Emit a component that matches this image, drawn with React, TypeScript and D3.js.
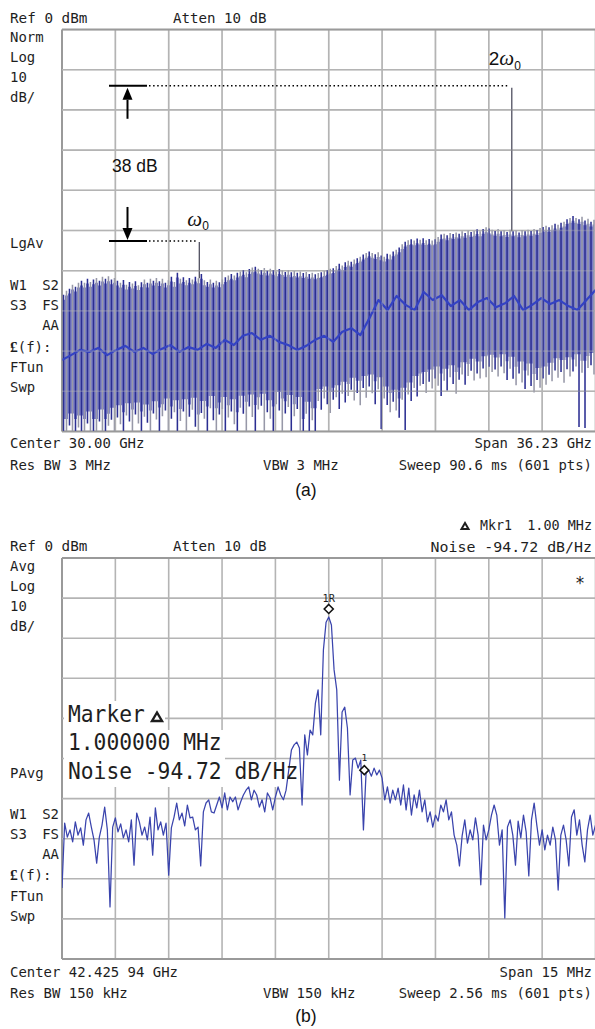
import React from 'react';
import * as d3 from 'd3';

const W = 595;
const H = 1029;
const MONO = '"DejaVu Sans Mono", monospace';
const SANS = 'Arial, "Liberation Sans", sans-serif';
const SERIF = '"Liberation Serif", "DejaVu Serif", serif';

// ---------- Panel (a) data ----------
const aCenterGHz = 30.0;
const aSpanGHz = 36.23;
const aRefDb = 0;
const aDbPerDiv = 10;
// top of each stripe of the comb (dBm)
const aTop = [
  -66, -65, -64.5, -63.5, -64, -63, -62.5, -63, -62, -62.8, -62.2,
  -61.8, -62.5, -61.5, -62, -61.4, -62.2, -61.8,
  -62.5, -63, -62.3, -63.5, -62.8, -63.2, -62.6, -63.6, -62.9, -62.2, -63, -62,
  -62.5, -61.8, -62.6, -62, -63, -62.4, -61.5, -62.8, -60.5,
  -62, -61.6, -62.4, -61.8, -62.2, -61.5, -61.9,
  -60.8,
  -62.4, -62.8, -62.2, -63, -62.5, -62.9, -62.2, -61.6, -61.2,
  -60.8, -61.2, -60.5, -60.2, -59.8, -60.4, -59.6, -59.2,
  -59, -59.5, -59.8, -59.3, -60, -59.5, -59.8, -60.2, -59.6, -59.9, -60.3, -59.8, -60.4, -60.1, -60.5, -60.2,
  -60.6, -60.3, -60.8, -60.5, -60.9, -60.6, -60.4, -60.1, -59.8, -59.5,
  -59.4, -58.8, -58.3, -58.7, -57.9, -57.5, -57.8, -57.2, -56.9, -56.5,
  -56, -55.6, -55.2, -55.6, -55.9, -55.4,
  -56.2, -56.5, -55.8, -56, -55.2,
  -54.8, -54.2, -53.4, -52.8, -52.4,
  -52.2, -52.5, -52, -52.3, -51.9, -52.4, -52.1, -52.5, -52.2,
  -51.6, -51, -50.8, -51.2, -50.6, -50.9, -50.5,
  -50.8, -50.2, -50.6, -50, -50.4, -50.1, -49.7, -50.2, -49.6, -49.2, -49.5,
  -49.8, -50.1, -49.6, -50.2, -49.9, -50.4, -49.8, -50.2, -50, -50.5, -49.9,
  -50.2, -49.8, -50.1, -49.6, -49.9, -49.4, -49.1, -48.8,
  -49.2, -48.7, -48.3, -48.6, -48.1, -47.8, -47.2, -46.9,
  -46.4, -46.9, -47.2, -46.6, -47.5, -47.1, -47.8, -47.3,
];
// bottom of each stripe (dBm)
const aBot = [
  -99.9, -99.9, -98.5, -99.9, -99.9, -99, -99.9, -99.9, -98, -99.9, -99.9, -99.9, -97.5, -99.9, -99.9, -98.6,
  -97.1, -99.9, -96.5, -98.2, -99.9, -96, -97.5, -99.9, -95.8, -98, -99.9, -96.3, -97.8, -99.9, -95.5, -97,
  -99.9, -96.2, -94.8, -99.9, -96.8, -95.2, -99.9, -97.4,
  -95, -99.9, -96.3, -94.6, -98.8, -99.9, -95.4, -96.8, -99.9, -94.2, -97.2, -99.9, -95.8, -94.4, -99.9, -96.5,
  -95, -98.2, -99.9, -94.1, -95.6, -99.9, -93.8, -96.4, -99.9, -94.5, -93.6, -99.9, -95.2, -96.8, -99.9, -93.2,
  -94.8, -99.9, -95.5, -93.9, -99.9, -96.2, -94.4, -99.9,
  -99.9, -95.6, -99.9, -97.2, -99.9, -92.4, -94.6, -91.8, -93.2, -95.4, -92.1, -91.5, -94.4, -90.6, -92.8, -91.2,
  -89.6, -92.3, -90.4, -93.5,
  -89.2, -91.6, -88.8, -90.5, -93.2, -89.5, -99.4, -91.8, -93.4, -95.2, -92.6, -94.8, -96.6, -92.1, -99.6, -90.8,
  -92.4, -89.2, -91.3, -88.6,
  -88.2, -90.4, -87.6, -89.3, -86.8, -88.6, -91.2, -87.4, -89.8, -86.5, -88.2, -90.6, -87.1, -85.8, -88.4, -86.2,
  -84.9, -87.3, -85.6, -86.8,
  -84.3, -86.5, -83.9, -85.2, -84.6, -86.3, -83.8, -85.5, -87.2, -84.4, -86.9, -88.5, -85.6, -87.8, -89.4, -86.1,
  -88.7, -90.3, -87.2, -89.1,
  -86.8, -88.4, -85.9, -87.5, -84.8, -86.6, -85.2, -87.9, -84.5, -86.3, -85.1, -83.8, -98.9, -85.4, -99.1, -84.2,
  -83.5, -85.8,
];
// averaged trace through the comb (dBm)
const aAvg = [
  -82.2, -81, -79.7, -80.2, -79.2, -81, -79.7, -78.7, -80.2, -79.2, -80.7, -79.5, -78.5, -80.2, -79, -79.7,
  -78.2, -79.2, -77.2, -78.5, -76.2, -75.5, -77.2, -76.2, -77.7, -78.5, -79.7, -78.7, -77.2, -76.2, -77.7,
  -75.2, -74.3, -76, -71.8, -67.3, -69.8, -66.3, -68.5, -69.8, -65.3, -67.3, -66.1, -68.8, -67.3, -69.8,
  -67.8, -66.8, -69.1, -68.1, -66.3, -69.8, -68.5, -66.8, -68.3, -67.3, -68.8, -69.8, -67.3, -64.8,
];
// the two marked harmonics
const aHarmonicGHz = [21.21, 42.43];
const aHarmonicDb = [-52.6, -14.0];
const aLabels = ['\u03c9', '2\u03c9'];

// ---------- Panel (b) data ----------
const bCenterLabel = '42.425 94 GHz';
const bSpanMHz = 15;
const bTrace = [
  -82.3, -66.1, -69.6, -67.8, -70.8, -65.8, -69.1, -67.3, -71.6, -65.3,
  -63.6, -67.1, -70.3, -76.1, -69.6, -66.6, -62.1, -67.8, -87, -67.1,
  -64.8, -68.3, -66.3, -69.8, -67.8, -70.8, -65.3, -76.6, -63.6, -65.8,
  -69.1, -67.1, -70.3, -64.6, -74.1, -62.3, -67.8, -65.8, -69.1, -66.1,
  -79.1, -67.3, -64.6, -61.1, -65.3, -63.6, -66.8, -61.6, -64.8, -64.6,
  -67.8, -67.1, -76.8, -63.3, -61.1, -60.3, -63.3, -63.6, -61.6, -59.6,
  -62.3, -58.6, -62.8, -59.6, -60.8, -59.6, -62.8, -60.8, -59.1, -57.9,
  -57.1, -60.3, -57.9, -59.1, -62.1, -60.3, -63.3, -58.6, -59.8, -62.8,
  -59.6, -57.1, -59.1, -60.3, -57.9, -52.9, -47.9, -46.6, -45.9, -47.4,
  -61.6, -44.1, -49.1, -42.9, -44.1, -36.2, -32.9, -44.1, -22.9, -16,
  -14.7, -16.7, -27.9, -32.9, -55.4, -38.4, -37.2, -42.4, -59.1, -50.4,
  -49.9, -52.4, -50.4, -67.8, -53.4, -52.9, -54.4, -52.4, -54.1, -52.9,
  -54.9, -60.3, -57.1, -61.1, -57.9, -60.3, -57.4, -61.6, -56.6, -62.8,
  -57.4, -64.1, -59.1, -62.3, -57.9, -63.3, -60.3, -65.8, -63.3, -67.1,
  -64.1, -65.6, -61.6, -63.3, -60.3, -65.3, -63.3, -69.1, -71.6, -76.8,
  -69.3, -65.3, -71.1, -67.8, -70.3, -64.8, -69.1, -81.5, -66.6, -70.3,
  -67.8, -64.1, -61.6, -64.1, -71.6, -67.8, -89.8, -67.1, -65.3, -69.1,
  -76.6, -65.6, -69.8, -64.1, -68.3, -79.3, -65.3, -61.1, -66.6, -71.6,
  -67.8, -72.8, -69.1, -71.6, -67.1, -70.3, -82.8, -69.1, -66.6, -70.3,
  -76.8, -64.6, -62.8, -69.1, -65.3, -71.6, -75.8, -67.8, -64.1, -69.1, -66.6,
];
const bPeakMHz = 0;
const bPeakDb = -14.7;
const bMarkerMHz = 1.0;
const bMarkerDb = -52.9;

// ---------- layout ----------
const X0 = 62;
const X1 = 595.5;
const A_TOP = 29.5;
const A_BOT = 431.5;
const B_TOP = 558;
const B_BOT = 959;
const CW = 8.4; // instrument font cell width
const FS = 14;
const RIGHT = 592;

function MText({ x, y, t, anchor = 'start', size = FS, cw = CW, weight = 'normal' }: any) {
  const len = t.length * cw;
  const sx = anchor === 'end' ? x - len : anchor === 'middle' ? x - len / 2 : x;
  return (
    <text x={sx} y={y} fontFamily={MONO} fontSize={size} fontWeight={weight} fill="#1e1e1e"
      textLength={len} lengthAdjust="spacingAndGlyphs">{t}</text>
  );
}

function Tri({ x, y, s, sw, fill = 'none' }: any) {
  return (
    <path d={`M${x - s / 2},${y} L${x + s / 2},${y} L${x},${y - s * 0.85} Z`} fill={fill}
      stroke="#1e1e1e" strokeWidth={sw} strokeLinejoin="miter" />
  );
}

function Grid({ x, y, faint = false }: any) {
  const xs = d3.range(11).map((i) => x.domain()[0] + (i * (x.domain()[1] - x.domain()[0])) / 10);
  const ys = d3.range(11).map((i) => y.domain()[0] + (i * (y.domain()[1] - y.domain()[0])) / 10);
  return (
    <g opacity={faint ? 0.35 : 1}>
      {xs.map((v, i) => (
        <line key={'x' + i} x1={x(v)} x2={x(v)} y1={y.range()[0]} y2={y.range()[1]}
          stroke={i === 0 ? '#9a9a9a' : '#b4b4b4'} strokeWidth={i === 0 ? 2 : 1.6} />
      ))}
      {ys.map((v, i) => (
        <line key={'y' + i} x1={x.range()[0]} x2={x.range()[1]} y1={y(v)} y2={y(v)}
          stroke={i === 0 || i === 10 ? '#9a9a9a' : '#b4b4b4'} strokeWidth={i === 0 || i === 10 ? 2 : 1.6} />
      ))}
    </g>
  );
}

function SideLabels({ top, first }: any) {
  return (
    <g>
      <MText x={10} y={top - 7} t="Ref 0 dBm" cw={8.6} />
      <MText x={173} y={top - 7} t="Atten 10 dB" cw={8.5} />
      <MText x={10} y={top + 12.5} t={first} />
      <MText x={10} y={top + 32.5} t="Log" />
      <MText x={10} y={top + 52.5} t="10" />
      <MText x={10} y={top + 72.5} t="dB/" />
      <MText x={10} y={top + 260.5} t="W1" />
      <MText x={59} y={top + 260.5} t="S2" anchor="end" />
      <MText x={10} y={top + 280.5} t="S3" />
      <MText x={59} y={top + 280.5} t="FS" anchor="end" />
      <MText x={59} y={top + 300.5} t="AA" anchor="end" />
      <text x={10} y={top + 322} fontFamily={MONO} fontSize={FS} fill="#1e1e1e">
        <tspan fontWeight="bold" fontFamily={SERIF} fontSize={15.5}>£</tspan>
        <tspan>(f):</tspan>
      </text>
      <MText x={10} y={top + 342.5} t="FTun" />
      <MText x={10} y={top + 362.5} t="Swp" />
    </g>
  );
}

function Arrow({ x, y1, y2 }: any) {
  const dir = y2 > y1 ? 1 : -1;
  const hb = y2 - dir * 12;
  return (
    <g>
      <line x1={x} x2={x} y1={y1} y2={hb} stroke="#000" strokeWidth={2} />
      <path d={`M${x - 5},${hb} L${x + 5},${hb} L${x},${y2} Z`} fill="#000" />
    </g>
  );
}

export default function App() {
  const aStart = aCenterGHz - aSpanGHz / 2;
  const xA = d3.scaleLinear().domain([aStart, aStart + aSpanGHz]).range([X0, X1]);
  const yA = d3.scaleLinear().domain([aRefDb - 10 * aDbPerDiv, aRefDb]).range([A_BOT, A_TOP]);
  const nBars = aTop.length;
  const barF = (i: number) => aStart + ((i + 0.5) * aSpanGHz) / nBars;
  const avgLine = d3.line<number>()
    .x((_, i) => xA(aStart + (i * aSpanGHz) / (aAvg.length - 1)))
    .y((d) => yA(d));
  const topAt = (f: number) => {
    const i = Math.max(0, Math.min(nBars - 1, Math.round(((f - aStart) / aSpanGHz) * nBars - 0.5)));
    return aTop[i];
  };
  const areaA = d3.area<number>()
    .x((_, i) => xA(barF(i)))
    .y0((_, i) => yA(Math.max(aBot[i], aBot[Math.max(0, i - 1)]) + 3))
    .y1((d) => yA(d - 1.2))
    .curve(d3.curveStep);

  const xB = d3.scaleLinear().domain([-bSpanMHz / 2, bSpanMHz / 2]).range([X0, X1]);
  const yB = d3.scaleLinear().domain([-100, 0]).range([B_BOT, B_TOP]);
  const bLine = d3.line<number>()
    .x((_, i) => xB(-bSpanMHz / 2 + (i * bSpanMHz) / (bTrace.length - 1)))
    .y((d) => yB(d));

  const markX0 = 109;
  const markX1 = 147;
  const arrowX = 127.5;

  const hx0 = xA(aHarmonicGHz[0]);
  const hy0 = yA(aHarmonicDb[0]);
  const hx1 = xA(aHarmonicGHz[1]);
  const hy1 = yA(aHarmonicDb[1]);

  const px = xB(bPeakMHz);
  const py = yB(bPeakDb);
  const mx = xB(bMarkerMHz);
  const my = yB(bMarkerDb);

  const diamond = (cx: number, cy: number, r: number) => `M${cx},${cy - r} L${cx + r},${cy} L${cx},${cy + r} L${cx - r},${cy} Z`;

  return (
    <svg width={W} height={H} viewBox={`0 0 ${W} ${H}`} style={{ position: 'absolute', left: 0, top: 0, background: '#fff' }}>
      <rect x={0} y={0} width={W} height={H} fill="#fff" />
      {/* ================= Panel (a) ================= */}
      <SideLabels top={A_TOP} first="Norm" />
      <MText x={10} y={248} t="LgAv" />
      <Grid x={xA} y={yA} />
      <clipPath id="clipA"><rect x={X0} y={A_TOP} width={X1 - X0} height={A_BOT - A_TOP} /></clipPath>
      <g clipPath="url(#clipA)">
        <path d={areaA(aTop) || ''} fill="#7b7ec6" />
        {aTop.map((t, i) => (
          <line key={i} x1={xA(barF(i))} x2={xA(barF(i))} y1={yA(t)} y2={yA(aBot[i])}
            stroke={i % 2 === 0 ? '#2c2f92' : '#9798a8'} strokeWidth={1.55} />
        ))}
        <path d={avgLine(aAvg) || ''} fill="none" stroke="#3442c4" strokeWidth={2.2} strokeLinejoin="round" />
        <line x1={hx0} x2={hx0} y1={hy0 + 1} y2={yA(topAt(aHarmonicGHz[0]))} stroke="#505060" strokeWidth={1.3} />
        <line x1={hx1} x2={hx1} y1={hy1 + 2} y2={yA(topAt(aHarmonicGHz[1]))} stroke="#505060" strokeWidth={1.3} />
      </g>
      <g clipPath="url(#clipA)"><Grid x={xA} y={yA} faint /></g>
      {/* annotations */}
      <line x1={markX0} x2={markX1} y1={hy1} y2={hy1} stroke="#000" strokeWidth={2} />
      <line x1={markX1 + 2} x2={hx1 - 3} y1={hy1} y2={hy1} stroke="#000" strokeWidth={1.6} strokeDasharray="1.5,2.6" />
      <line x1={markX0} x2={markX1} y1={hy0} y2={hy0} stroke="#000" strokeWidth={2} />
      <line x1={markX1 + 2} x2={hx0 - 2} y1={hy0} y2={hy0} stroke="#000" strokeWidth={1.6} strokeDasharray="1.5,2.6" />
      <Arrow x={arrowX} y1={hy1 + 33} y2={hy1 + 2} />
      <Arrow x={arrowX} y1={hy0 - 34} y2={hy0 - 1} />
      <text x={112} y={172} fontFamily={SANS} fontSize={17.5} fill="#111">38 dB</text>
      <text x={hx0 - 12} y={226} fontFamily={SERIF} fontStyle="italic" fontSize={21} fill="#111">
        {aLabels[0]}<tspan fontFamily={SANS} fontStyle="normal" fontSize={12} dy={4}>0</tspan>
      </text>
      <text x={hx1 - 23} y={65} fontFamily={SANS} fontSize={19} fill="#111">
        2<tspan fontFamily={SERIF} fontStyle="italic" fontSize={21}>{aLabels[1].slice(1)}</tspan>
        <tspan fontSize={12} dy={5}>0</tspan>
      </text>
      <MText x={10} y={448} t="Center 30.00 GHz" />
      <MText x={10} y={470} t="Res BW 3 MHz" />
      <MText x={263} y={470} t="VBW 3 MHz" />
      <MText x={RIGHT} y={448} t="Span 36.23 GHz" anchor="end" />
      <MText x={RIGHT} y={470} t="Sweep 90.6 ms (601 pts)" anchor="end" />
      <text x={306} y={496} textAnchor="middle" fontFamily={SANS} fontSize={17.5} fill="#111">(a)</text>

      {/* ================= Panel (b) ================= */}
      <Tri x={465} y={529} s={7} sw={2} />
      <MText x={480} y={530} t="Mkr1" cw={8} />
      <MText x={RIGHT} y={530} t="1.00 MHz" anchor="end" cw={8.1} />
      <MText x={RIGHT} y={552} t="Noise  -94.72 dB/Hz" anchor="end" cw={8.5} />
      <SideLabels top={B_TOP} first="Avg" />
      <MText x={10} y={778} t="PAvg" />
      <Grid x={xB} y={yB} />
      <rect x={64} y={701} width={101} height={29} fill="#fff" />
      <rect x={64} y={730} width={161} height={30} fill="#fff" />
      <rect x={64} y={760} width={243} height={27} fill="#fff" />
      <clipPath id="clipB"><rect x={X0} y={B_TOP} width={X1 - X0} height={B_BOT - B_TOP} /></clipPath>
      <g clipPath="url(#clipB)">
        <path d={bLine(bTrace) || ''} fill="none" stroke="#3a44ad" strokeWidth={1.25} strokeLinejoin="round" />
      </g>
      <MText x={68} y={722} t="Marker" size={23} cw={12.8} />
      <Tri x={157} y={721} s={10} sw={2.4} />
      <MText x={68} y={750} t="1.000000 MHz" size={23} cw={12.8} />
      <MText x={68} y={779} t="Noise -94.72 dB/Hz" size={23} cw={12.8} />
      <path d={diamond(px, py - 8, 4.5)} fill="#fff" stroke="#111" strokeWidth={1.6} />
      <MText x={px} y={py - 15} t="1R" anchor="middle" size={10} cw={6.2} />
      <path d={diamond(mx, my, 4.5)} fill="#fff" stroke="#111" strokeWidth={1.5} />
      <MText x={mx} y={my - 9} t="1" anchor="middle" size={9.5} cw={5.8} />
      <MText x={580} y={589} t="*" anchor="middle" size={17} cw={10} />
      <MText x={10} y={977} t={'Center ' + bCenterLabel} />
      <MText x={10} y={998} t="Res BW 150 kHz" />
      <MText x={263} y={998} t="VBW 150 kHz" />
      <MText x={RIGHT} y={977} t="Span 15 MHz" anchor="end" />
      <MText x={RIGHT} y={998} t="Sweep 2.56 ms (601 pts)" anchor="end" />
      <text x={306} y={1022} textAnchor="middle" fontFamily={SANS} fontSize={17.5} fill="#111">(b)</text>
    </svg>
  );
}
